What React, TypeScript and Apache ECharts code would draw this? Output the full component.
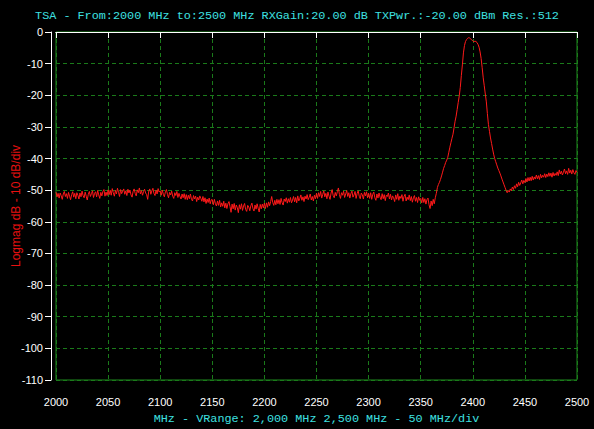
import React, { useEffect, useRef } from "react";
import * as echarts from "echarts";

const titleText =
  "TSA - From:2000 MHz to:2500 MHz RXGain:20.00 dB TXPwr.:-20.00 dBm Res.:512";
const xAxisTitle = "MHz - VRange: 2,000 MHz 2,500 MHz - 50 MHz/div";
const yAxisTitle = "Logmag dB - 10 dB/div";

const freqStart = 2000;
const freqStep = 1;
const xMin = 2000;
const xMax = 2500;
const xInterval = 50;
const yMin = -110;
const yMax = 0;
const yInterval = 10;

// 2000-2049 MHz
const seg2000 = [
  -50.6, -52.1, -51.0, -52.5, -50.9, -51.8, -52.9, -51.2, -50.4, -52.0,
  -51.1, -52.6, -50.7, -51.9, -53.0, -51.4, -50.5, -52.2, -51.0, -52.7,
  -50.8, -51.6, -52.8, -50.9, -52.1, -50.3, -51.7, -52.4, -50.6, -51.9,
  -53.1, -51.3, -50.4, -52.0, -51.1, -50.2, -52.3, -51.0, -50.5, -52.1,
  -50.1, -51.5, -52.6, -50.7, -51.8, -50.4, -49.8, -51.9, -50.6, -51.7,
];
// 2050-2099 MHz
const seg2050 = [
  -49.9, -51.4, -50.0, -51.6, -49.5, -50.8, -51.9, -50.1, -51.2, -49.4,
  -50.7, -52.0, -49.8, -51.1, -50.3, -49.6, -51.3, -50.2, -51.7, -49.7,
  -50.9, -50.0, -51.5, -52.2, -50.4, -49.6, -51.0, -51.8, -49.9, -50.8,
  -49.3, -51.2, -50.1, -51.6, -50.5, -49.7, -50.9, -51.4, -52.9, -50.3,
  -49.6, -51.3, -50.2, -49.4, -51.0, -51.7, -50.0, -51.2, -49.5, -50.6,
];
// 2100-2149 MHz
const seg2100 = [
  -50.2, -51.6, -50.0, -51.3, -52.1, -50.5, -49.8, -51.4, -52.4, -50.7,
  -51.5, -50.3, -51.9, -52.6, -50.8, -51.7, -50.4, -52.3, -51.0, -52.0,
  -52.8, -51.2, -52.4, -51.1, -52.9, -51.4, -53.0, -51.6, -52.7, -51.2,
  -52.9, -53.4, -51.7, -52.8, -51.9, -53.6, -52.2, -53.1, -51.8, -52.6,
  -53.5, -52.0, -53.7, -52.4, -54.2, -52.8, -53.9, -52.5, -54.3, -53.0,
];
// 2150-2199 MHz
const seg2150 = [
  -53.0, -54.6, -52.9, -54.3, -55.0, -53.4, -54.8, -53.2, -55.3, -54.0,
  -55.1, -53.5, -55.6, -54.1, -55.8, -54.3, -53.6, -55.2, -57.0, -54.4,
  -55.9, -54.2, -56.3, -54.7, -55.5, -57.1, -54.6, -56.0, -54.3, -56.4,
  -55.0, -54.2, -56.1, -56.7, -54.8, -55.3, -56.5, -54.9, -54.1, -55.8,
  -56.6, -54.7, -56.0, -54.3, -55.7, -56.9, -54.5, -55.9, -54.4, -55.6,
];
// 2200-2249 MHz
const seg2200 = [
  -54.1, -55.8, -54.0, -55.4, -53.7, -54.9, -53.6, -52.0, -53.9, -54.8,
  -53.2, -54.6, -52.9, -54.3, -53.0, -54.5, -52.6, -53.9, -54.7, -52.8,
  -53.6, -52.4, -54.1, -52.7, -53.8, -52.3, -54.0, -53.1, -52.0, -53.7,
  -52.3, -54.0, -51.8, -53.4, -52.6, -51.5, -53.2, -52.1, -53.6, -51.9,
  -52.8, -51.4, -53.0, -52.2, -51.2, -53.1, -52.0, -53.4, -51.6, -52.7,
];
// 2250-2299 MHz
const seg2250 = [
  -51.0, -52.6, -50.8, -52.0, -50.4, -52.5, -51.3, -50.2, -52.1, -51.0,
  -52.7, -50.6, -51.9, -52.9, -50.9, -49.8, -51.7, -52.4, -50.7, -51.8,
  -50.5, -49.3, -51.4, -52.6, -50.8, -51.6, -50.3, -52.3, -51.2, -50.1,
  -52.0, -50.8, -52.5, -51.1, -50.3, -52.2, -51.5, -50.4, -52.6, -51.0,
  -50.2, -51.9, -52.7, -50.9, -51.5, -52.8, -50.7, -51.8, -50.5, -52.4,
];
// 2300-2349 MHz
const seg2300 = [
  -51.0, -52.6, -50.8, -52.9, -51.3, -50.6, -52.4, -53.2, -51.2, -52.5,
  -50.9, -52.2, -53.0, -51.1, -52.7, -51.4, -53.3, -51.6, -52.0, -50.9,
  -52.8, -51.3, -53.1, -51.8, -52.4, -53.6, -51.5, -52.9, -51.1, -53.2,
  -51.9, -52.6, -51.4, -53.5, -52.0, -51.3, -53.4, -52.2, -53.0, -51.5,
  -53.3, -52.0, -53.8, -52.4, -51.7, -53.5, -52.3, -53.9, -52.1, -53.2,
];
// 2350-2399 MHz
const seg2350 = [
  -52.6, -54.0, -52.3, -53.9, -52.7, -54.4, -53.0, -52.5, -54.6, -55.8,
  -53.4, -54.9, -52.9, -54.3, -52.4, -51.0, -49.2, -48.2, -47.5, -46.6,
  -45.5, -44.3, -43.1, -42.2, -41.2, -40.5, -39.6, -38.0, -36.4, -35.0,
  -33.6, -32.3, -30.3, -28.2, -26.6, -24.5, -22.3, -20.2, -17.5, -13.8,
  -10.4, -6.6, -4.3, -3.0, -2.4, -2.0, -1.8, -1.9, -2.2, -2.5,
];
// 2400-2449 MHz
const seg2400 = [
  -2.8, -3.1, -2.9, -3.0, -3.3, -3.9, -4.8, -6.3, -8.4, -11.3,
  -14.5, -17.0, -19.6, -22.1, -25.8, -29.2, -31.4, -33.5, -35.2, -37.0,
  -38.6, -40.0, -41.0, -42.0, -43.0, -43.8, -44.6, -45.5, -46.5, -47.4,
  -48.3, -49.2, -50.1, -50.8, -50.1, -50.6, -49.6, -50.2, -49.0, -49.8,
  -48.6, -49.4, -48.0, -48.9, -47.5, -48.5, -47.7, -46.8, -48.0, -46.9,
];
// 2450-2500 MHz
const seg2450 = [
  -47.6, -46.3, -47.4, -46.0, -47.1, -45.9, -47.0, -45.6, -46.8, -45.8,
  -46.5, -45.2, -46.4, -45.4, -46.6, -45.0, -46.1, -45.3, -45.9, -44.8,
  -46.0, -44.9, -45.7, -44.5, -45.6, -44.6, -45.9, -44.4, -45.5, -44.7,
  -45.3, -44.2, -45.4, -43.6, -44.9, -44.0, -45.2, -44.3, -43.3, -44.8,
  -43.9, -45.0, -43.1, -44.6, -43.7, -44.9, -43.5, -44.5, -45.0, -43.8,
  -44.4,
];

const traceDb = [
  ...seg2000, ...seg2050, ...seg2100, ...seg2150, ...seg2200,
  ...seg2250, ...seg2300, ...seg2350, ...seg2400, ...seg2450,
];

const GREEN_BORDER = "#1f8a1f";
const GREEN_GRID = "#1a7a1a";
const CYAN = "#3ee0e0";

export default function App() {
  const ref = useRef<HTMLDivElement>(null);

  useEffect(() => {
    document.body.style.margin = "0";
    document.body.style.background = "#000";
    if (!ref.current) return;
    const chart = echarts.init(ref.current, null, { renderer: "svg" });
    const data = traceDb.map((v, i) => [freqStart + i * freqStep, v]);
    chart.setOption({
      animation: false,
      backgroundColor: "#000000",
      title: {
        text: titleText,
        left: "center",
        top: 5,
        textStyle: {
          color: CYAN,
          fontFamily: "Liberation Mono",
          fontWeight: "normal",
          fontSize: 11.8,
        },
      },
      grid: {
        left: 56,
        right: 17,
        top: 32,
        bottom: 49,
        containLabel: false,
        outerBoundsMode: "none",
        show: true,
        borderColor: GREEN_BORDER,
        borderWidth: 1,
        backgroundColor: "transparent",
      },
      xAxis: [
        {
          type: "value",
          min: xMin,
          max: xMax,
          interval: xInterval,
          offset: 6,
          name: xAxisTitle,
          nameLocation: "middle",
          nameGap: 27,
          nameMoveOverlap: false,
          nameTextStyle: {
            color: CYAN,
            fontFamily: "Liberation Mono",
            fontSize: 11.8,
          },
          axisLine: { show: true, lineStyle: { color: "#ffffff", width: 1 } },
          axisTick: { show: true, length: 6, lineStyle: { color: "#ffffff" } },
          axisLabel: {
            color: "#ffffff",
            fontFamily: "Liberation Sans",
            fontSize: 11,
            margin: 10,
            formatter: (v: number) => String(v),
          },
          splitLine: {
            show: true,
            lineStyle: { color: GREEN_GRID, type: [4, 3], width: 1 },
          },
        },
        {
          type: "value",
          position: "top",
          min: xMin,
          max: xMax,
          interval: xInterval,
          axisLine: { show: true, lineStyle: { color: "#ffffff", width: 1 } },
          axisTick: { show: false },
          axisLabel: { show: false },
          splitLine: { show: false },
          z: 10,
        },
      ],
      yAxis: {
        type: "value",
        min: yMin,
        max: yMax,
        interval: yInterval,
        offset: 5,
        name: yAxisTitle,
        nameLocation: "middle",
        nameGap: 29,
        nameMoveOverlap: false,
        nameTextStyle: {
          color: "#e81010",
          fontFamily: "Liberation Sans",
          fontSize: 12,
        },
        axisLine: { show: true, lineStyle: { color: "#ffffff", width: 1 } },
        axisTick: { show: true, length: 6, lineStyle: { color: "#ffffff" } },
        axisLabel: {
          color: "#ffffff",
          fontFamily: "Liberation Sans",
          fontSize: 11,
          margin: 8,
        },
        splitLine: {
          show: true,
          lineStyle: { color: GREEN_GRID, type: [4, 3], width: 1 },
        },
      },
      series: [
        {
          type: "line",
          data,
          showSymbol: false,
          symbol: "none",
          lineStyle: { color: "#ff1a1a", width: 1 },
          z: 5,
        },
      ],
    });
    return () => chart.dispose();
  }, []);

  return <div ref={ref} style={{ width: 594, height: 429 }} />;
}
